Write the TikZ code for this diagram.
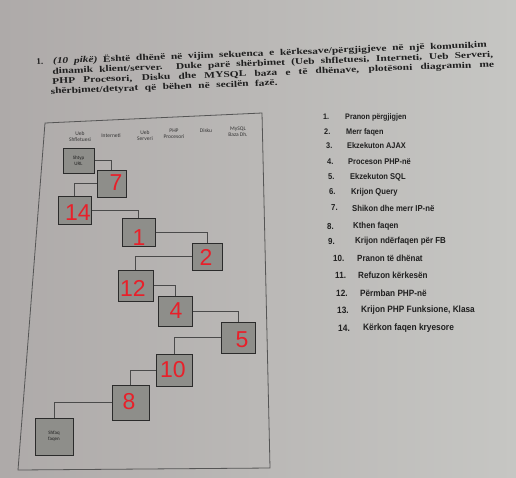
\documentclass[tikz,border=0pt]{standalone}
\usepackage{fontspec}
\setmainfont{Liberation Serif}
\newfontfamily\legendfont{Liberation Sans}
\newfontfamily\tinyfont{Carlito}
\newfontfamily\handfont{Liberation Sans}
\usetikzlibrary{shadows}
\definecolor{paperL}{HTML}{AEAAA9}
\definecolor{paperR}{HTML}{C6C6C3}
\definecolor{ink}{HTML}{1F1F1F}
\definecolor{boxfill}{HTML}{8E8E8A}
\definecolor{boxline}{HTML}{2B2B2B}
\definecolor{connline}{HTML}{4A4A4A}
\definecolor{handred}{HTML}{E8202A}
\newcommand\qline[2]{\scalebox{1.3}[1]{\makebox[\dimexpr #1pt*100/130\relax][s]{#2}}}
\tikzset{
  stepbox/.style={draw=boxline, fill=boxfill, line width=1pt, inner sep=0pt,
    drop shadow={shadow xshift=1.2pt, shadow yshift=-1.2pt, fill=black, opacity=0.45}},
  conn/.style={draw=connline, line width=0.6pt},
  handnum/.style={text=handred, font=\handfont\fontsize{23}{23}\selectfont, inner sep=0pt},
  qtext/.style={text=ink, font=\bfseries\fontsize{8.8}{10}\selectfont, inner sep=0pt, rotate=2.2, anchor=base west},
  colhead/.style={text=ink!90, font=\tinyfont\fontsize{5.5}{6}\selectfont, align=center, inner sep=0pt},
  boxtext/.style={text=ink, font=\tinyfont\fontsize{5}{6}\selectfont, align=center},
  legtext/.style={text=ink, inner sep=0pt, anchor=west}
}
\begin{document}
\begin{tikzpicture}[x=1pt,y=-1pt]
\shade[left color=paperL, right color=paperR] (0,0) rectangle (516,477);
\useasboundingbox (0,0) rectangle (516,477);

% question text (one block)
\node[qtext] (q) at (53,64) {\parbox[t]{500pt}{\noindent\baselineskip=10pt\lineskiplimit=-10pt
  \llap{1.\hspace{10pt}}\qline{434}{\textit{(10 pikë)} Është dhënë në vijim sekuenca e kërkesave/përgjigjeve në një komunikim}\\
  \hspace*{-1pt}\qline{441}{dinamik klient/server. Duke parë shërbimet (Ueb shfletuesi, Interneti, Ueb Serveri,}\\
  \hspace*{-1.5pt}\qline{442}{PHP Procesori, Disku dhe MYSQL baza e të dhënave, plotësoni diagramin me}\\
  \hspace*{-3.5pt}\qline{227}{shërbimet/detyrat që bëhen në secilën fazë.}}};

% frame
\draw[draw=boxline!80, line width=0.8pt] (45,123) -- (262,113) -- (270,468) -- (18,470) -- cycle;

% column headers
\node[colhead] (h1) at (80,137) {Ueb\\Shfletuesi};
\node[colhead] (h2) at (111,136) {Interneti};
\node[colhead] (h3) at (145,135.5) {Ueb\\Serveri};
\node[colhead] (h4) at (174,134) {PHP\\Procesori};
\node[colhead] (h5) at (206,131) {Disku};
\node[colhead] (h6) at (238,131.5) {MySQL\\Baza Dh.};

% boxes
\node[stepbox, minimum width=31pt, minimum height=25pt, boxtext] (b0) at (78.5,160.5) {Shtyp\\URL};
\node[stepbox, minimum width=29pt, minimum height=27pt] (b7) at (111.5,183.5) {};
\node[stepbox, minimum width=33pt, minimum height=28pt] (b14) at (74.5,210) {};
\node[stepbox, minimum width=33pt, minimum height=28pt] (b1) at (138.5,232) {};
\node[stepbox, minimum width=30pt, minimum height=27pt] (b2) at (207,256.5) {};
\node[stepbox, minimum width=35pt, minimum height=31pt] (b12) at (135.5,285.5) {};
\node[stepbox, minimum width=34pt, minimum height=30pt] (b4) at (175,311) {};
\node[stepbox, minimum width=34pt, minimum height=31pt] (b5) at (238,337.5) {};
\node[stepbox, minimum width=36pt, minimum height=32pt] (b10) at (174,370) {};
\node[stepbox, minimum width=37pt, minimum height=35pt] (b8) at (130.5,402.5) {};
\node[stepbox, minimum width=38pt, minimum height=37pt, boxtext] (bS) at (54,436.5) {Shfaq\\faqen};

% connectors
\draw[conn] (b0.east) -| (b7.north);
\draw[conn] (b7.west) -| (b14.north);
\draw[conn] (b14.east) -| (b1.north);
\draw[conn] (b1.east) -| (b2.north);
\draw[conn] (b2.west) -| (b12.north);
\draw[conn] (b12.east) -| (b4.north);
\draw[conn] (b4.east) -| (b5.north);
\draw[conn] (b5.west) -| (b10.north);
\draw[conn] (b10.west) -| (b8.north);
\draw[conn] (b8.west) -| (bS.north);

% handwritten numbers
\node[handnum] (r7) at (116,183) {7};
\node[handnum] (r14) at (78,213) {14};
\node[handnum] (r1) at (139,238) {1};
\node[handnum] (r2) at (206,257) {2};
\node[handnum] (r12) at (133,288) {12};
\node[handnum] (r4) at (176,311) {4};
\node[handnum] (r5) at (242,340) {5};
\node[handnum] (r10) at (173,370) {10};
\node[handnum] (r8) at (129,402) {8};

% legend
\foreach \n/\nx/\tx/\ty/\txt in {
  1/323/345/117/Pranon përgjigjen,
  2/324/346/132/Merr faqen,
  3/326/347/146/Ekzekuton AJAX,
  4/327/348/162/Proceson PHP-në,
  5/328/350/177/Ekzekuton SQL,
  6/329/351/192/Krijon Query,
  7/331/352/208/Shikon dhe merr IP-në,
  8/327/353/226/Kthen faqen,
  9/328/355/241/Krijon ndërfaqen për FB,
  10/333/357/258/Pranon të dhënat,
  11/335/358/275/Refuzon kërkesën,
  12/336/360/293/Përmban PHP-në,
  13/337/361/310/{Krijon PHP Funksione, Klasa},
  14/338/363/328/Kërkon faqen kryesore}
{
  \pgfmathsetmacro{\fs}{7.9+0.1*\n}
  \node[legtext, font=\legendfont\bfseries\fontsize{\fs pt}{\fs pt}\selectfont] (ln\n) at (\nx,\ty) {\scalebox{0.9}[1]{\n.}};
  \node[legtext, font=\legendfont\bfseries\fontsize{\fs pt}{\fs pt}\selectfont] (lt\n) at (\tx,\ty) {\scalebox{0.9}[1]{\txt}};
}
\end{tikzpicture}
\end{document}
